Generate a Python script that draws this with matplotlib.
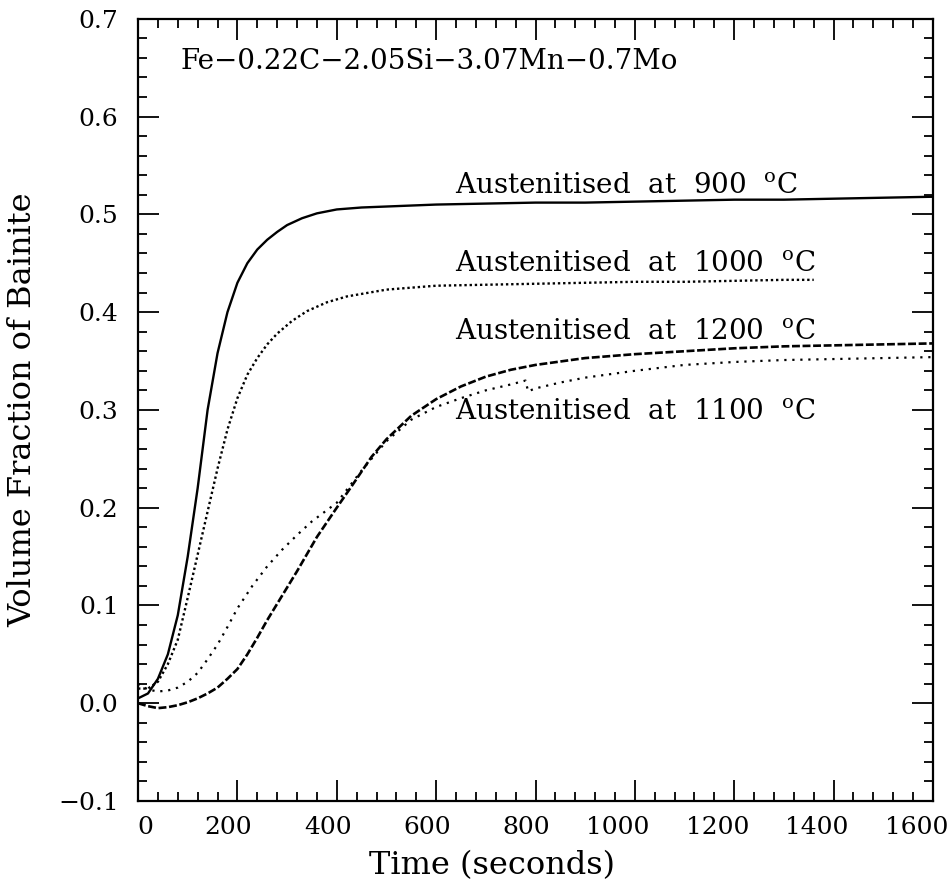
import matplotlib
matplotlib.use("Agg")
import matplotlib.pyplot as plt
from matplotlib.ticker import MultipleLocator, FuncFormatter
from matplotlib.transforms import ScaledTranslation

plt.rcParams['font.family'] = ['DejaVu Serif']
plt.rcParams['mathtext.fontset'] = 'dejavuserif'

# Volume fraction of bainite vs time
t_900 = [0, 20, 40, 60, 80, 100, 120, 140, 160, 180, 200, 220, 240, 260, 280, 300, 330, 360,
         400, 450, 500, 600, 700, 800, 900, 1000, 1100, 1200, 1300, 1400, 1500, 1600]
v_900 = [0.005, 0.010, 0.025, 0.050, 0.090, 0.150, 0.220, 0.300, 0.358, 0.400, 0.430, 0.450,
         0.464, 0.474, 0.482, 0.489, 0.496, 0.501, 0.505, 0.507, 0.508, 0.510, 0.511, 0.512,
         0.512, 0.513, 0.514, 0.515, 0.515, 0.516, 0.517, 0.518]

t_1000 = [0, 20, 40, 60, 80, 100, 120, 140, 160, 180, 200, 220, 240, 260, 280, 310, 340, 380,
          420, 500, 600, 700, 800, 900, 1000, 1100, 1200, 1300, 1360]
v_1000 = [0.015, 0.015, 0.022, 0.040, 0.065, 0.108, 0.152, 0.196, 0.240, 0.280, 0.312, 0.336,
          0.353, 0.367, 0.378, 0.391, 0.401, 0.410, 0.416, 0.423, 0.427, 0.428, 0.429, 0.430,
          0.431, 0.431, 0.432, 0.433, 0.433]

t_1200 = [0, 20, 40, 60, 80, 100, 120, 140, 160, 180, 200, 220, 240, 260, 290, 320, 360, 400,
          430, 470, 500, 550, 600, 650, 700, 750, 800, 900, 1000, 1100, 1200, 1300, 1400, 1500,
          1600]
v_1200 = [0.000, -0.003, -0.005, -0.004, -0.002, 0.001, 0.005, 0.010, 0.016, 0.025, 0.035,
          0.050, 0.067, 0.085, 0.110, 0.135, 0.170, 0.200, 0.222, 0.252, 0.270, 0.294, 0.311,
          0.324, 0.334, 0.341, 0.346, 0.353, 0.357, 0.360, 0.363, 0.365, 0.366, 0.367, 0.368]

t_1100 = [0, 20, 40, 60, 80, 100, 120, 140, 160, 180, 200, 230, 260, 290, 320, 350, 400, 450,
          500, 550, 600, 650, 700, 750, 780, 785, 800, 850, 900, 1000, 1100, 1200, 1300, 1400,
          1500, 1600]
v_1100 = [0.020, 0.014, 0.012, 0.013, 0.016, 0.022, 0.031, 0.045, 0.060, 0.078, 0.097, 0.120,
          0.140, 0.157, 0.172, 0.186, 0.205, 0.238, 0.268, 0.290, 0.303, 0.312, 0.320, 0.326,
          0.330, 0.319, 0.322, 0.328, 0.333, 0.340, 0.346, 0.349, 0.351, 0.352, 0.353, 0.354]

x_ticks = [0, 200, 400, 600, 800, 1000, 1200, 1400, 1600]

alloy = "Fe\u22120.22C\u22122.05Si\u22123.07Mn\u22120.7Mo"
labels = ["Austenitised  at  900  $^{\\mathrm{o}}$C", "Austenitised  at  1000  $^{\\mathrm{o}}$C",
          "Austenitised  at  1200  $^{\\mathrm{o}}$C", "Austenitised  at  1100  $^{\\mathrm{o}}$C"]
label_y = [0.529, 0.450, 0.380, 0.298]

fig = plt.figure(figsize=(9.52, 8.94), dpi=100)
ax = fig.add_axes([0.145, 0.104, 0.835, 0.875])

ax.plot(t_900, v_900, color='black', lw=1.7, ls='-')
ax.plot(t_1000, v_1000, color='black', lw=1.7, ls=(0, (1, 1.2)))
ax.plot(t_1200, v_1200, color='black', lw=1.9, ls=(0, (3, 1)))
ax.plot(t_1100, v_1100, color='black', lw=1.6, ls=(0, (1, 2.6)))

ax.text(86, 0.656, alloy, fontsize=20, va='center', ha='left')
for lab, yy in zip(labels, label_y):
    ax.text(638, yy, lab, fontsize=20, va='center', ha='left')

ax.set_xlim(0, 1600)
ax.set_ylim(-0.1, 0.7)
ax.set_xticks(x_ticks)
ax.xaxis.set_minor_locator(MultipleLocator(40))
ax.yaxis.set_major_locator(MultipleLocator(0.1))
ax.yaxis.set_minor_locator(MultipleLocator(0.02))
ax.yaxis.set_major_formatter(FuncFormatter(lambda v, p: f"{v:.1f}".replace("-", "\u2212")))
ax.tick_params(which='both', direction='in', top=True, right=True, width=1.3)
ax.tick_params(which='major', length=15, labelsize=18)
ax.tick_params(axis='x', which='major', pad=11)
ax.tick_params(axis='y', which='major', pad=14)
ax.tick_params(which='minor', length=6.5)
for s in ax.spines.values():
    s.set_linewidth(1.6)

ax.set_xlabel("Time (seconds)", fontsize=23)
ax.set_ylabel("Volume Fraction of Bainite", fontsize=23)
ax.xaxis.set_label_coords(0.445, -0.063)
ax.yaxis.set_label_coords(-0.125, 0.5)

# the old plot has the x labels right-aligned a bit past each tick
shift = ScaledTranslation(0.15, 0, fig.dpi_scale_trans)
for tick in ax.xaxis.get_major_ticks():
    tick.label1.set_horizontalalignment('right')
    tick.label1.set_transform(tick.label1.get_transform() + shift)

fig.savefig("out.png", dpi=100)
